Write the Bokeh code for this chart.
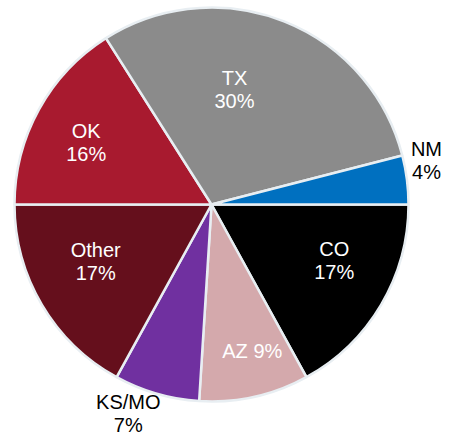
import numpy as np
from bokeh.plotting import figure
from bokeh.models import Range1d, ColumnDataSource
from bokeh.core.properties import value
from bokeh.embed import file_html
from bokeh.resources import INLINE

# data (order clockwise starting at 3 o'clock)
states = ["CO", "AZ", "KS/MO", "Other", "OK", "TX", "NM"]
shares = [17, 9, 7, 17, 16, 30, 4]
colors = ["#000000", "#d4a9ac", "#7030a0", "#650f1c", "#a81a2f", "#8b8b8b", "#0070c0"]

# label styling: radial fraction, angular nudge (deg), single-line flag
label_frac = [0.685, 0.77, 1.142, 0.655, 0.71, 0.595, 1.114]
label_nudge = [-6, -3, 5.5, 4.4, -2.4, -10.3, -4.4]
single_line = [False, True, False, False, False, False, False]

W, H = 443, 438
CX, CY, R = 211, H - 204, 197

p = figure(width=W, height=H, x_range=Range1d(0, W), y_range=Range1d(0, H),
           output_backend="svg", toolbar_location=None, min_border=0)
p.axis.visible = False
p.grid.visible = False
p.outline_line_color = None
p.background_fill_color = "white"
p.border_fill_color = "white"

vals = np.array(shares, dtype=float)
frac = vals / vals.sum()
cum_end = np.cumsum(frac)
cum_start = cum_end - frac
# clockwise from 3 o'clock
start = -cum_end * 2 * np.pi
end = -cum_start * 2 * np.pi

src = ColumnDataSource(dict(start=start, end=end, color=colors))
p.wedge(x=CX, y=CY, radius=R, start_angle="start", end_angle="end",
        direction="anticlock", fill_color="color", line_color="#e8eef2",
        line_width=2.5, source=src)

# labels
mid = (cum_start + cum_end) / 2 * 360 + 90  # compass degrees
lx, ly, lt, lc = [], [], [], []
for i, s in enumerate(states):
    ang = np.deg2rad(mid[i] + label_nudge[i])
    r = label_frac[i] * R
    x = CX + r * np.sin(ang)
    y = CY + r * np.cos(ang)
    col = "black" if label_frac[i] > 1 else "white"
    pct = f"{shares[i]}%"
    if single_line[i]:
        lx.append(x); ly.append(y); lt.append(f"{s} {pct}"); lc.append(col)
    else:
        lx += [x, x]; ly += [y + 11.5, y - 11.5]; lt += [s, pct]; lc += [col, col]

p.text(x=lx, y=ly, text=lt, text_color=lc, text_align="center",
       text_baseline="middle", text_font=value("Liberation Sans"),
       text_font_size="20px")

open("out.html", "w").write(file_html(p, INLINE))
